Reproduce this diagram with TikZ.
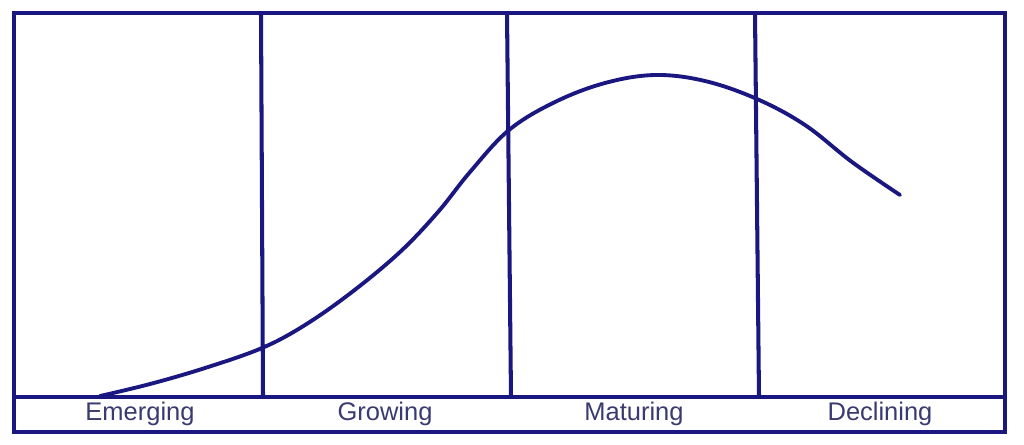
\documentclass[tikz,border=0pt]{standalone}
\usepackage{fontspec}
\setmainfont{Liberation Sans}
\definecolor{StageNavy}{RGB}{26,24,128}
\definecolor{LabelInk}{RGB}{58,58,112}
\usetikzlibrary{positioning}

\begin{document}
\begin{tikzpicture}[x=0.02cm, y=-0.02cm,
	frame/.style={draw=StageNavy, line width=2.3pt},
	stage/.style={font=\fontsize{14.5}{16}\selectfont, text=LabelInk, inner sep=0pt}]
	\useasboundingbox (0,0) rectangle (1024,444);
	% outer box and label strip
	\coordinate (tl) at (14,13);
	\coordinate (br) at (1005,432);
	\draw[frame] (tl) rectangle (br);
	\coordinate (sl) at (14,397);
	\coordinate (sr) at (1005,397);
	\draw[frame] (sl) -- (sr);
	% stage dividers
	\coordinate (d1t) at (261,13);  \coordinate (d1b) at (263,397);
	\coordinate (d2t) at (507,13);  \coordinate (d2b) at (511,397);
	\coordinate (d3t) at (755,13);  \coordinate (d3b) at (759,397);
	\foreach \i in {1,2,3}{\draw[frame] (d\i t) -- (d\i b);}
	% stage names
	\node[stage] (emerging) at (140,414) {Emerging};
	\node[stage] (growing) at (385,414) {Growing};
	\node[stage] (maturing) at (634,414) {Maturing};
	\node[stage] (declining) at (880,414) {Declining};
	% life cycle curve
	\draw[StageNavy, line width=2.2pt, line cap=round] plot[smooth, tension=0.6] coordinates {
		(100,396) (150,384) (205,368) (262,348) (305,325) (352,292)
		(400,252) (438,212) (470,172) (509,130) (555,102) (605,83)
		(655,75) (705,81) (757,99) (805,125) (852,162) (900,195)};
\end{tikzpicture}
\end{document}
